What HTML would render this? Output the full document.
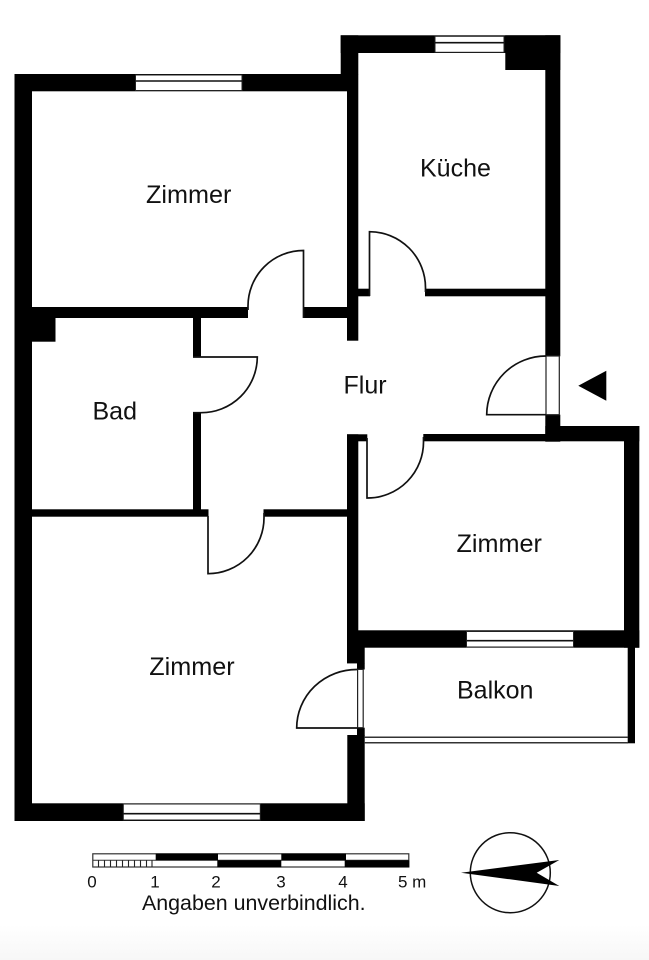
<!DOCTYPE html>
<html lang="de">
<head>
<meta charset="utf-8">
<title>Grundriss</title>
<style>
html,body{margin:0;padding:0;background:#fff}
svg{display:block}
text{font-family:"Liberation Sans",sans-serif;fill:#111}
</style>
</head>
<body>
<svg xmlns="http://www.w3.org/2000/svg" width="649" height="960" viewBox="0 0 649 960">
<defs>
<linearGradient id="fade" x1="0" y1="0" x2="0" y2="1">
<stop offset="0" stop-color="#fff"/>
<stop offset="1" stop-color="#f7f7f7"/>
</linearGradient>
</defs>
<rect width="649" height="960" fill="#fff"/>
<rect y="925" width="649" height="35" fill="url(#fade)"/>

<g fill="#000">
<!-- outer walls -->
<rect x="14.5" y="74" width="17.5" height="747"/>
<rect x="14.5" y="74" width="335" height="17.3"/>
<rect x="14.5" y="803.3" width="350.2" height="17.7"/>
<rect x="340.7" y="35.3" width="219.6" height="17.7"/>
<rect x="340.7" y="35.3" width="17.6" height="39"/>
<rect x="545.3" y="35.3" width="15" height="321"/>
<rect x="505.3" y="35.3" width="55" height="34.7"/>
<rect x="545.3" y="414.7" width="15" height="27"/>
<rect x="545.3" y="426" width="94" height="15.3"/>
<rect x="624" y="426" width="15.3" height="221.7"/>
<rect x="347.3" y="630.3" width="292" height="17.4"/>
<rect x="627.7" y="647" width="7.3" height="96.3"/>
<!-- inner walls -->
<rect x="347" y="74" width="11.3" height="266.7"/>
<rect x="32" y="307" width="216" height="11"/>
<rect x="303" y="307" width="44" height="11"/>
<rect x="32" y="318" width="23.5" height="23.7"/>
<rect x="193" y="318" width="8" height="39"/>
<rect x="193" y="412.7" width="8" height="97"/>
<rect x="32" y="509.3" width="176.5" height="7.4"/>
<rect x="263.5" y="509.3" width="84" height="7.4"/>
<rect x="358" y="288.7" width="12" height="7.6"/>
<rect x="425" y="288.7" width="120.5" height="7.6"/>
<rect x="423.3" y="434" width="122.5" height="7.3"/>
<rect x="347" y="434.3" width="20.3" height="7"/>
<rect x="347" y="434.3" width="11.3" height="229"/>
<rect x="347" y="647" width="17.7" height="16.3"/>
<rect x="357" y="663" width="7.7" height="6.5"/>
<rect x="357" y="727.7" width="7.7" height="8"/>
<rect x="347.3" y="735" width="17.4" height="86"/>
</g>

<!-- windows -->
<g fill="#fff" stroke="#222" stroke-width="1">
<rect x="135.5" y="75" width="106.5" height="15.5"/>
<rect x="435" y="36.3" width="69" height="16"/>
<rect x="466.5" y="631.5" width="107" height="15.5"/>
<rect x="123.3" y="804" width="137" height="16"/>
</g>
<g stroke="#111" stroke-width="1.6" fill="none">
<path d="M135.5 81H242"/>
<path d="M435 42.7H504"/>
<path d="M466.5 640.7H573.5"/>
<path d="M123.3 813.7H260.3"/>
</g>

<!-- door frames -->
<rect x="546" y="356" width="13.3" height="58.7" fill="#fff" stroke="#222" stroke-width="1.2"/>
<rect x="357.6" y="669.4" width="5.6" height="58.3" fill="#fff" stroke="#222" stroke-width="1.2"/>

<!-- doors -->
<g fill="none" stroke="#111" stroke-width="1.7">
<path d="M303.5 318V250.5A55.5 55.5 0 0 0 248 306V310"/>
<path d="M369.5 296V231.7A56 56 0 0 1 425.5 288V292"/>
<path d="M193 357H257.3A56 56 0 0 1 201 412.7H193"/>
<path d="M208 516V573.7A56 56 0 0 0 264 517V513"/>
<path d="M367 438V498A56 56 0 0 0 423.5 441V437"/>
<path d="M546 414.7H486.7A59 59 0 0 1 546 356"/>
<path d="M357.4 728H296.7A60 58.5 0 0 1 357.4 669.5"/>
</g>

<!-- balcony rail -->
<g stroke="#333" stroke-width="1.5">
<path d="M364.7 737.3H628"/>
<path d="M364.7 742.7H628"/>
</g>

<!-- entrance marker -->
<polygon points="578.3,385.7 606.3,370.7 606.3,400.7" fill="#000"/>

<!-- labels -->
<text x="146" y="203" font-size="25.2">Zimmer</text>
<text x="420" y="176.7" font-size="25">Küche</text>
<text x="92.5" y="419.3" font-size="25">Bad</text>
<text x="343.5" y="393.7" font-size="25">Flur</text>
<text x="456.5" y="552" font-size="25.2">Zimmer</text>
<text x="457" y="698.7" font-size="25">Balkon</text>
<text x="149.3" y="675" font-size="25.2">Zimmer</text>

<!-- scale bar -->
<g>
<rect x="92.8" y="853.8" width="316" height="13.2" fill="#fff" stroke="#333" stroke-width="1.2"/>
<path d="M92.8 860.3H408.8" stroke="#333" stroke-width="1"/>
<g fill="#000">
<rect x="155.7" y="853.5" width="62.3" height="6.8"/>
<rect x="281.3" y="853.5" width="64.7" height="6.8"/>
<rect x="217.3" y="860.3" width="64" height="7"/>
<rect x="344.7" y="860.3" width="64.6" height="7"/>
</g>
<path d="M98.5 860.5V867M104.5 860.5V867M110.5 860.5V867M116.5 860.5V867M122.5 860.5V867M128.5 860.5V867M134.5 860.5V867M140.5 860.5V867M146.5 860.5V867M152 860.5V867" stroke="#222" stroke-width="1.1"/>
</g>
<g font-size="17">
<text x="87.3" y="887.7">0</text>
<text x="150.3" y="887.7">1</text>
<text x="211.3" y="887.7">2</text>
<text x="276.3" y="887.7">3</text>
<text x="338.3" y="887.7">4</text>
<text x="398" y="887.7">5 m</text>
</g>
<text x="142" y="910" font-size="21.4">Angaben unverbindlich.</text>

<!-- compass -->
<circle cx="510.3" cy="872.7" r="40" fill="none" stroke="#111" stroke-width="1.5"/>
<polygon points="461,872.7 559.3,860 536.7,872.7 559.3,886" fill="#000"/>
</svg>
</body>
</html>
